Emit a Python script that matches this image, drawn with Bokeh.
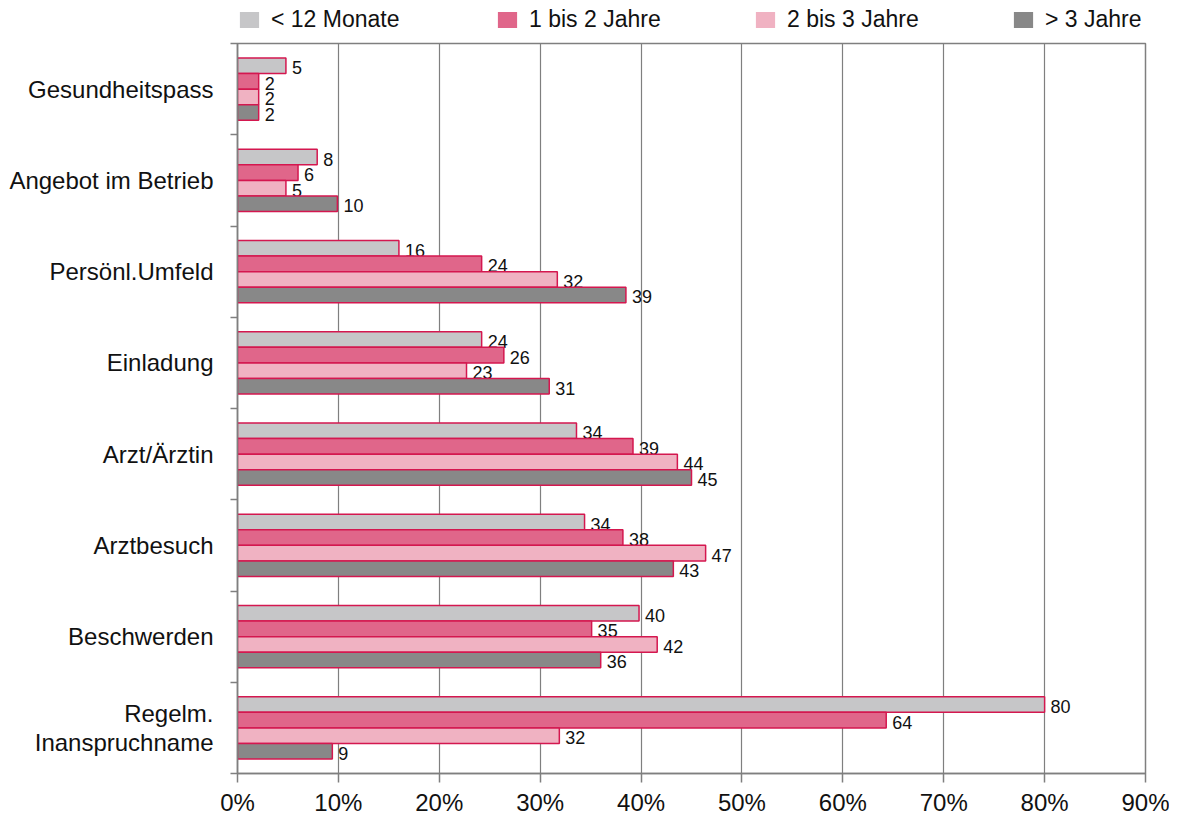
from bokeh.plotting import figure
from bokeh.layouts import column
from bokeh.models import FixedTicker, Legend, LegendItem, ColumnDataSource, PrintfTickFormatter
from bokeh.core.properties import value
from bokeh.embed import file_html
from bokeh.resources import INLINE

categories = ["Gesundheitspass", "Angebot im Betrieb", "Persönl.Umfeld", "Einladung",
              "Arzt/Ärztin", "Arztbesuch", "Beschwerden", "Regelm.\nInanspruchname"]
series = ["< 12 Monate", "1 bis 2 Jahre", "2 bis 3 Jahre", "> 3 Jahre"]
colors = ["#c6c6c8", "#e0668a", "#f0b2c2", "#888888"]

# bar lengths (percent)
lt12 = [4.8, 7.9, 16.0, 24.2, 33.6, 34.4, 39.8, 80.0]
y1_2 = [2.1, 6.0, 24.2, 26.4, 39.2, 38.2, 35.1, 64.3]
y2_3 = [2.1, 4.8, 31.7, 22.7, 43.6, 46.4, 41.6, 31.9]
gt3 = [2.1, 9.9, 38.5, 30.9, 45.0, 43.2, 36.0, 9.4]
# printed value labels
lt12_lbl = [5, 8, 16, 24, 34, 34, 40, 80]
y1_2_lbl = [2, 6, 24, 26, 39, 38, 35, 64]
y2_3_lbl = [2, 5, 32, 23, 44, 47, 42, 32]
gt3_lbl = [2, 10, 39, 31, 45, 43, 36, 9]

x_ticks = [0, 10, 20, 30, 40, 50, 60, 70, 80, 90]

values = [lt12, y1_2, y2_3, gt3]
labels = [lt12_lbl, y1_2_lbl, y2_3_lbl, gt3_lbl]

FONT = "Liberation Sans"
OUTLINE = "#d4174f"
AXIS = "#7f7f7f"

n = len(categories)
centers = [n - 1 - i + 0.5 for i in range(n)]
bar_h = 0.17
offsets = [1.5 * bar_h, 0.5 * bar_h, -0.5 * bar_h, -1.5 * bar_h]

# ---- main chart ----
p = figure(width=1169, height=780, x_range=(0, 90), y_range=(0, n),
           output_backend="svg", toolbar_location=None,
           min_border_left=237, min_border_right=24, min_border_top=5, min_border_bottom=45)

p.outline_line_color = AXIS
p.outline_line_width = 1.5
p.background_fill_color = "white"
p.border_fill_color = "white"

p.xgrid.ticker = FixedTicker(ticks=x_ticks)
p.xgrid.grid_line_color = AXIS
p.xgrid.grid_line_width = 1.2
p.ygrid.grid_line_color = None

for s, c, vals, lbls, off in zip(series, colors, values, labels, offsets):
    ys = [cy + off for cy in centers]
    src = ColumnDataSource(dict(y=ys, right=vals, lbl=[str(v) for v in lbls]))
    p.hbar(y="y", right="right", left=0, height=bar_h, source=src,
           fill_color=c, line_color=OUTLINE, line_width=1.5)
    p.text(x="right", y="y", text="lbl", source=src, x_offset=6, y_offset=2,
           text_font=value(FONT), text_font_size="18px", text_baseline="middle",
           text_align="left", text_color="#111111")

xa = p.xaxis[0]
xa.ticker = FixedTicker(ticks=x_ticks)
xa.formatter = PrintfTickFormatter(format="%d%%")
xa.axis_line_color = AXIS
xa.axis_line_width = 1.5
xa.major_tick_line_color = AXIS
xa.major_tick_line_width = 1.5
xa.major_tick_out = 9
xa.major_tick_in = 0
xa.minor_tick_line_color = None
xa.major_label_text_font = FONT
xa.major_label_text_font_size = "24px"
xa.major_label_text_color = "#111111"
xa.major_label_standoff = 6

ya = p.yaxis[0]
ya.ticker = FixedTicker(ticks=centers, minor_ticks=[float(i) for i in range(n + 1)])
ya.major_label_overrides = {c: lab for c, lab in zip(centers, categories)}
ya.axis_line_color = AXIS
ya.axis_line_width = 1.5
ya.major_tick_line_color = None
ya.minor_tick_line_color = AXIS
ya.minor_tick_line_width = 1.5
ya.minor_tick_out = 7
ya.minor_tick_in = 0
ya.major_label_text_font = FONT
ya.major_label_text_font_size = "24px"
ya.major_label_text_line_height = 1.1
ya.major_label_text_color = "#111111"
ya.major_label_standoff = 17

# ---- legend strip ----
pl = figure(width=1169, height=38, x_range=(0, 1), y_range=(0, 1),
            output_backend="svg", toolbar_location=None,
            x_axis_location=None, y_axis_location=None,
            min_border_left=233, min_border_right=0, min_border_top=0, min_border_bottom=0)
pl.outline_line_color = None
pl.xgrid.grid_line_color = None
pl.ygrid.grid_line_color = None

legend_items = []
for s, c in zip(series, colors):
    lr = pl.hbar(y=[0.5], right=[0], left=0, height=0.1, fill_color=c, line_color=None)
    legend_items.append(LegendItem(label=s, renderers=[lr]))

legend = Legend(items=legend_items, orientation="horizontal", location="left",
                glyph_width=24, glyph_height=20, label_standoff=10, spacing=0,
                label_width=224, padding=0, margin=0, border_line_color=None,
                background_fill_alpha=0,
                label_text_font=FONT, label_text_font_size="23px",
                label_text_color="#111111", label_height=20)
pl.add_layout(legend)

open("out.html", "w").write(file_html(column(pl, p), INLINE))
